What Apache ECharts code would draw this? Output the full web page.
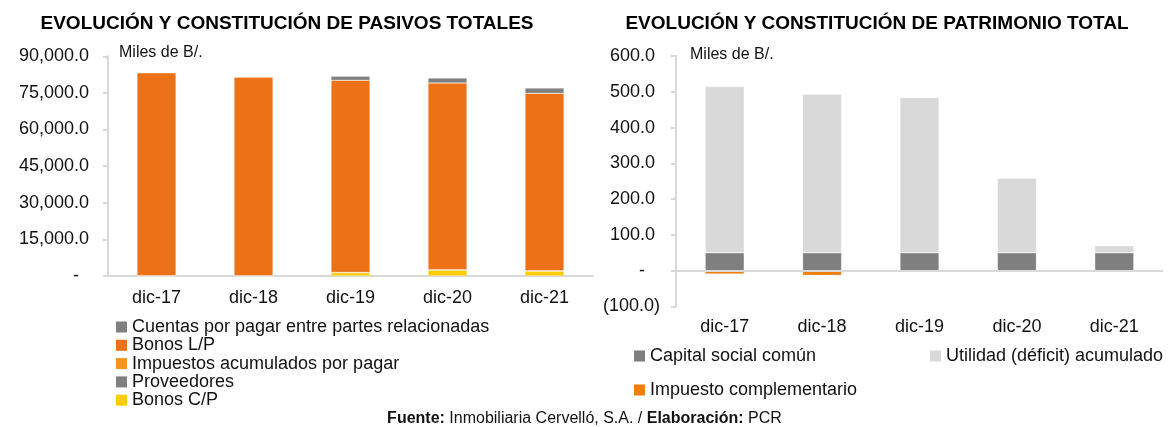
<!DOCTYPE html>
<html><head><meta charset="utf-8">
<script src="https://cdn.jsdelivr.net/npm/echarts@6/dist/echarts.min.js"></script>
<style>html,body{margin:0;padding:0;background:#fff}#c{width:1169px;height:427px}</style>
</head><body><div id="c"></div>
<script>
const categories = ['dic-17','dic-18','dic-19','dic-20','dic-21'];
// Pasivos (Miles de B/.)
const cuentasRel = [0, 0, 1640, 2050, 2160];
const bonosLP = [83180, 81400, 78760, 76550, 72740];
const impuestosAcum = [40, 30, 30, 40, 30];
const proveedores = [60, 60, 60, 50, 60];
const bonosCP = [0, 0, 1310, 2420, 2010];
// Patrimonio (Miles de B/.)
const capitalSocial = [50, 50, 50, 50, 50];
const utilidadAcum = [465, 443, 434, 209, 20];
const impuestoCompl = [-9, -13, 0, 0, 0];

const FONT = 'Liberation Sans, Arial, sans-serif';
const AX = '#d9d9d9';
const chart = echarts.init(document.getElementById('c'), null, {renderer:'canvas'});

function fmtL(v){ if (v===0) return '-   '; return v.toLocaleString('en-US',{minimumFractionDigits:1,maximumFractionDigits:1})+' '; }
function fmtR(v){ if (v===0) return '-   '; if (v<0) return '('+(-v).toFixed(1)+')'; return v.toFixed(1)+' '; }

const barW = 39;
function bar(name, data, color, xi, stack){
  return {name, type:'bar', stack, data, xAxisIndex:xi, yAxisIndex:xi, barWidth:barW,
    itemStyle:{color, borderColor:'rgba(255,255,255,0.6)', borderWidth:0.5}, emphasis:{disabled:true}};
}
const legendText = {fontFamily:FONT, fontSize:18, color:'#111', lineHeight:18};
const lg = {itemWidth:11, itemHeight:11, icon:'rect', padding:0, textStyle:legendText, selectedMode:false,
  itemStyle:{borderWidth:0}};
chart.setOption({
  animation:false,
  textStyle:{fontFamily:FONT},
  title:[
    {text:'EVOLUCIÓN Y CONSTITUCIÓN DE PASIVOS TOTALES', left:282, top:9, textAlign:'center',
     textStyle:{fontFamily:FONT, fontSize:19, fontWeight:'bold', color:'#000'}},
    {text:'EVOLUCIÓN Y CONSTITUCIÓN DE PATRIMONIO TOTAL', left:872, top:9, textAlign:'center',
     textStyle:{fontFamily:FONT, fontSize:19, fontWeight:'bold', color:'#000'}}
  ],
  grid:[
    {left:108, top:56.3, width:485, height:219.6},
    {left:676, top:56, width:487, height:250.5}
  ],
  xAxis:[
    {gridIndex:0, type:'category', data:categories, axisTick:{show:false},
     axisLine:{lineStyle:{color:AX, width:2}},
     axisLabel:{fontFamily:FONT, fontSize:18, color:'#111', margin:13}},
    {gridIndex:1, type:'category', data:categories, axisTick:{show:false},
     axisLine:{show:false, onZero:false},
     axisLabel:{fontFamily:FONT, fontSize:18, color:'#111', margin:12}}
  ],
  yAxis:[
    {gridIndex:0, type:'value', min:0, max:90000, interval:15000, splitLine:{show:false},
     axisLine:{show:true, lineStyle:{color:AX, width:2}}, axisTick:{show:true, length:5, lineStyle:{color:AX, width:2}},
     axisLabel:{fontFamily:FONT, fontSize:18, color:'#111', margin:14, formatter:fmtL}},
    {gridIndex:1, type:'value', min:-100, max:600, interval:100, splitLine:{show:false},
     axisLine:{show:true, onZero:false, lineStyle:{color:AX, width:2}}, axisTick:{show:true, length:5, lineStyle:{color:AX, width:2}},
     axisLabel:{fontFamily:FONT, fontSize:18, color:'#111', margin:16, formatter:fmtR}}
  ],
  legend:[
    Object.assign({orient:'vertical', left:116, top:318, itemGap:0.3,
     data:['Cuentas por pagar entre partes relacionadas','Bonos L/P','Impuestos acumulados por pagar','Proveedores','Bonos C/P']}, lg),
    Object.assign({left:634, top:347, data:['Capital social común']}, lg),
    Object.assign({left:930, top:347, data:['Utilidad (déficit) acumulado']}, lg),
    Object.assign({left:634, top:381, data:['Impuesto complementario']}, lg)
  ],
  series:[
    bar('Bonos C/P', bonosCP, '#FFCC00', 0, 'p'),
    bar('Proveedores', proveedores, '#7F7F7F', 0, 'p'),
    bar('Impuestos acumulados por pagar', impuestosAcum, '#F7941D', 0, 'p'),
    bar('Bonos L/P', bonosLP, '#EC7117', 0, 'p'),
    bar('Cuentas por pagar entre partes relacionadas', cuentasRel, '#7F7F7F', 0, 'p'),
    Object.assign(bar('Capital social común', capitalSocial, '#7F7F7F', 1, 'q'), {
      markLine:{silent:true, symbol:'none', label:{show:false}, lineStyle:{color:AX, width:2, type:'solid'}, data:[{yAxis:0}]}
    }),
    bar('Utilidad (déficit) acumulado', utilidadAcum, '#D9D9D9', 1, 'q'),
    bar('Impuesto complementario', impuestoCompl, '#F07F09', 1, 'q')
  ],
  graphic:[
    {type:'text', left:119, top:45, style:{text:'Miles de B/.', font:'16px '+FONT, fill:'#111'}},
    {type:'text', left:690, top:47, style:{text:'Miles de B/.', font:'16px '+FONT, fill:'#111'}},
    {type:'text', left:'center', top:411, style:{
      text:'{b|Fuente:} Inmobiliaria Cervelló, S.A. / {b|Elaboración:} PCR',
      font:'16px '+FONT, fill:'#111',
      rich:{b:{fontWeight:'bold', fontSize:16, fontFamily:FONT, fill:'#111'}}}}
  ]
});
</script></body></html>
